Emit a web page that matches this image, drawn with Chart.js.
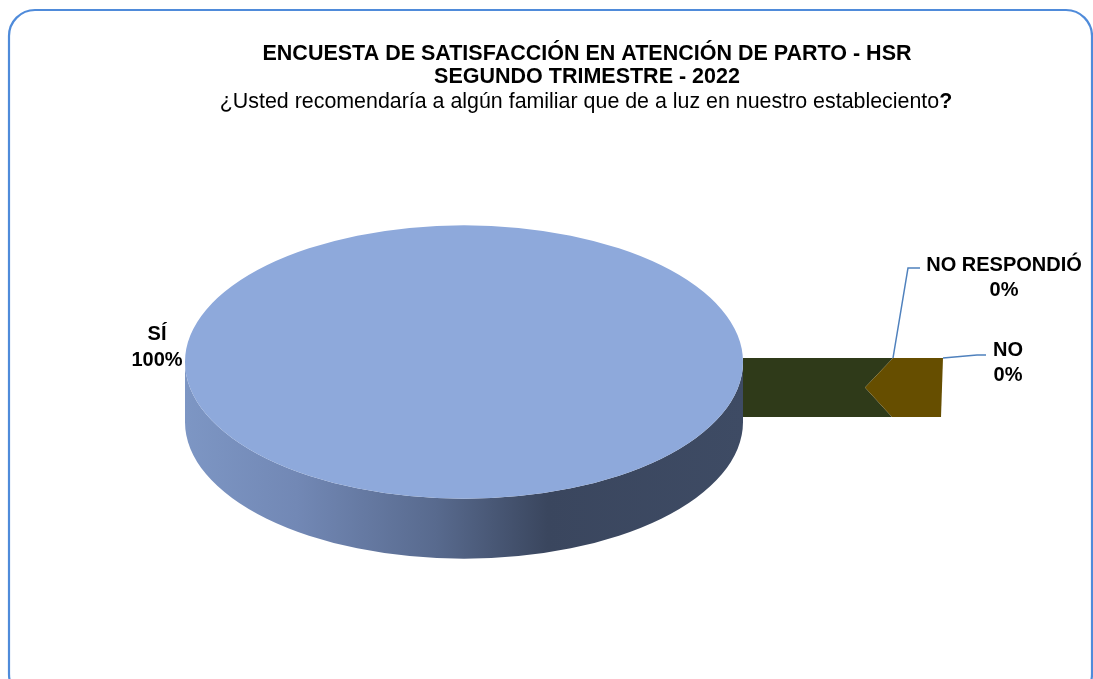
<!DOCTYPE html>
<html>
<head>
<meta charset="utf-8">
<script src="https://cdn.jsdelivr.net/npm/chart.js@4.4.0/dist/chart.umd.min.js"></script>
<style>
  html, body { margin: 0; padding: 0; background: #ffffff; }
  #wrap { width: 1093px; height: 679px; position: relative; }
</style>
</head>
<body>
<div id="wrap"><canvas id="pie-chart"></canvas></div>
<script>
// Chart data
const categories = ['SÍ', 'NO', 'NO RESPONDIÓ'];
const values = [100, 0, 0];
const sliceColors = ['#8EA9DB', '#664E00', '#2F3A19'];
const titleLines = ['ENCUESTA DE SATISFACCIÓN EN ATENCIÓN DE PARTO - HSR', 'SEGUNDO TRIMESTRE - 2022'];
const subtitleText = '¿Usted recomendaría a algún familiar que de a luz en nuestro estableciento';

const total = values.reduce((a, b) => a + b, 0);
const percentLabels = values.map(v => Math.round(v / total * 100) + '%');

const TILT = 0.49;     // vertical squash of the pie face
const DEPTH = 60;      // thickness of the 3D side
const FONT = '"Liberation Sans", Arial, sans-serif';

function centeredLines(ctx, lines, x, y, lineHeight) {
    lines.forEach((t, i) => ctx.fillText(t, x, y + i * lineHeight));
}

// Fake 3D look for the pie: side band, squashed face, zero-value walls, labels
const pie3d = {
    id: 'pie3d',
    beforeDraw(chart) {
        const ctx = chart.ctx;
        ctx.save();
        ctx.strokeStyle = '#4F8BDA';
        ctx.lineWidth = 2.2;
        ctx.beginPath();
        ctx.roundRect(9, 10, 1083, 690, 26);
        ctx.stroke();
        ctx.restore();
    },
    beforeDatasetsDraw(chart) {
        const ctx = chart.ctx;
        const arc = chart.getDatasetMeta(0).data[0];
        const cx = arc.x, cy = arc.y, rx = arc.outerRadius, ry = rx * TILT;

        // side of the disc
        const grad = ctx.createLinearGradient(cx - rx, 0, cx + rx, 0);
        grad.addColorStop(0, '#7D96C4');
        grad.addColorStop(0.2, '#7288B5');
        grad.addColorStop(0.45, '#586A8E');
        grad.addColorStop(0.65, '#3A465E');
        grad.addColorStop(1, '#3E4B64');
        ctx.save();
        ctx.beginPath();
        ctx.moveTo(cx + rx, cy);
        ctx.lineTo(cx + rx, cy + DEPTH);
        ctx.ellipse(cx, cy + DEPTH, rx, ry, 0, 0, Math.PI);
        ctx.lineTo(cx - rx, cy);
        ctx.ellipse(cx, cy, rx, ry, 0, Math.PI, 0, true);
        ctx.closePath();
        ctx.fillStyle = grad;
        ctx.fill();
        ctx.restore();

        // squash the pie face
        ctx.save();
        ctx.translate(cx, cy);
        ctx.scale(1, TILT);
        ctx.translate(-cx, -cy);
    },
    afterDatasetsDraw(chart) {
        const ctx = chart.ctx;
        ctx.restore();

        const meta = chart.getDatasetMeta(0);
        const arc = meta.data[0];
        const cx = arc.x, cy = arc.y, rx = arc.outerRadius;
        const edge = cx + rx * Math.cos(meta.data[1].startAngle);
        const top = cy - 4, bottom = top + 59;
        const mid = (top + bottom) / 2;

        // zero-value slices shown as flat walls
        ctx.save();
        ctx.fillStyle = sliceColors[2];
        ctx.beginPath();
        ctx.moveTo(edge, top);
        ctx.lineTo(edge + 150, top);
        ctx.lineTo(edge + 122, mid);
        ctx.lineTo(edge + 149, bottom);
        ctx.lineTo(edge, bottom);
        ctx.closePath();
        ctx.fill();
        ctx.fillStyle = sliceColors[1];
        ctx.beginPath();
        ctx.moveTo(edge + 150, top);
        ctx.lineTo(edge + 200, top);
        ctx.lineTo(edge + 198, bottom);
        ctx.lineTo(edge + 149, bottom);
        ctx.lineTo(edge + 122, mid);
        ctx.closePath();
        ctx.fill();

        // leader lines
        ctx.strokeStyle = '#4F81BD';
        ctx.lineWidth = 1.5;
        ctx.beginPath();
        ctx.moveTo(edge + 150, top);
        ctx.lineTo(edge + 165, 268);
        ctx.lineTo(edge + 177, 268);
        ctx.moveTo(edge + 200, top);
        ctx.lineTo(edge + 234, top - 3);
        ctx.lineTo(edge + 243, top - 3);
        ctx.stroke();

        // data labels
        ctx.fillStyle = '#000000';
        ctx.textAlign = 'center';
        ctx.textBaseline = 'middle';
        ctx.font = 'bold 20px ' + FONT;
        centeredLines(ctx, [categories[0], percentLabels[0]], cx - rx - 28, cy - 28, 26);
        centeredLines(ctx, [categories[2], percentLabels[2]], edge + 261, 265, 25);
        centeredLines(ctx, [categories[1], percentLabels[1]], edge + 265, 350, 25);

        // titles
        ctx.textBaseline = 'alphabetic';
        ctx.font = 'bold 21.5px ' + FONT;
        centeredLines(ctx, titleLines, 587, 60, 23);
        ctx.font = '21.4px ' + FONT;
        const qw = ctx.measureText(subtitleText).width;
        ctx.font = 'bold 21.4px ' + FONT;
        const mw = ctx.measureText('?').width;
        const startX = 586 - (qw + mw) / 2;
        ctx.textAlign = 'left';
        ctx.font = '21.4px ' + FONT;
        ctx.fillText(subtitleText, startX, 108);
        ctx.font = 'bold 21.4px ' + FONT;
        ctx.fillText('?', startX + qw, 108);
        ctx.restore();
    }
};

new Chart(document.getElementById('pie-chart'), {
    type: 'pie',
    data: {
        labels: categories,
        datasets: [{
            data: values,
            backgroundColor: sliceColors,
            borderWidth: 0,
            hoverOffset: 0
        }]
    },
    options: {
        responsive: true,
        maintainAspectRatio: false,
        animation: false,
        rotation: 90,
        layout: {
            padding: { left: 185, right: 350, top: 83, bottom: 38 }
        },
        plugins: {
            legend: { display: false },
            tooltip: { enabled: false },
            title: { display: false }
        }
    },
    plugins: [pie3d]
});
</script>
</body>
</html>
